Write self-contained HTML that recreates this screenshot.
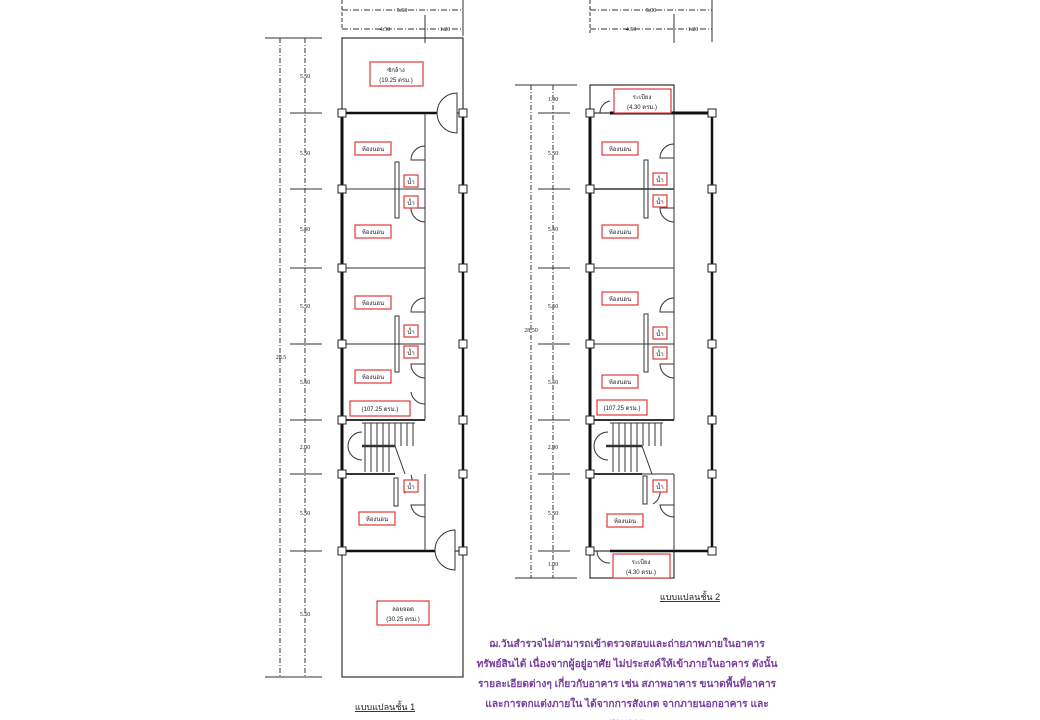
<!DOCTYPE html>
<html><head><meta charset="utf-8"><style>
html,body{margin:0;padding:0;background:#fff;width:1040px;height:720px;overflow:hidden}
svg{display:block}
.t{font-family:"Liberation Serif","Noto Serif CJK SC",serif;fill:#222}
.th{font-family:"Liberation Sans","Noto Sans CJK SC",sans-serif}
</style></head><body>
<svg width="1040" height="720" viewBox="0 0 1040 720" xmlns="http://www.w3.org/2000/svg">
<defs>
<g id="col"><rect x="-4" y="-4" width="8" height="8" fill="#fff" stroke="#222" stroke-width="1"/></g>
</defs>

<!-- ===== PLAN 1 ===== -->
<g stroke="#333" fill="none">
  <line x1="342" y1="0" x2="342" y2="30" stroke-dasharray="4 2"/>
  <line x1="463" y1="0" x2="463" y2="36"/>
  <line x1="342" y1="10" x2="463" y2="10" stroke-dasharray="6 2 1 2"/>
  <line x1="342" y1="29" x2="463" y2="29" stroke-dasharray="6 2 1 2"/>
  <line x1="425" y1="15" x2="425" y2="43"/>
  <line x1="265" y1="38" x2="322" y2="38"/>
  <line x1="265" y1="677" x2="322" y2="677"/>
  <line x1="280" y1="38" x2="280" y2="677" stroke-dasharray="5 2 1 2"/>
  <line x1="305" y1="38" x2="305" y2="677" stroke-dasharray="5 2 1 2"/>
  <g>
    <line x1="290" y1="113" x2="322" y2="113"/><line x1="290" y1="189" x2="322" y2="189"/>
    <line x1="290" y1="268" x2="322" y2="268"/><line x1="290" y1="344" x2="322" y2="344"/>
    <line x1="290" y1="420" x2="322" y2="420"/><line x1="290" y1="474" x2="322" y2="474"/>
    <line x1="290" y1="551" x2="322" y2="551"/>
  </g>
  <rect x="342" y="38" width="121" height="75" stroke-width="1.2"/>
  <rect x="342" y="551" width="121" height="126" stroke-width="1.2"/>
  <line x1="342" y1="113" x2="342" y2="551" stroke-width="3" stroke="#111"/>
  <line x1="463" y1="113" x2="463" y2="551" stroke-width="2.5" stroke="#111"/>
  <line x1="342" y1="113" x2="438" y2="113" stroke-width="2.5" stroke="#111"/>
  <line x1="342" y1="551" x2="438" y2="551" stroke-width="2.5" stroke="#111"/>
  <line x1="342" y1="189" x2="425" y2="189"/>
  <line x1="342" y1="268" x2="425" y2="268"/>
  <line x1="342" y1="344" x2="425" y2="344"/>
  <line x1="342" y1="420" x2="425" y2="420" stroke-width="2"/>
  <line x1="342" y1="474" x2="395" y2="474" stroke-width="2"/>
  <line x1="425" y1="113" x2="425" y2="420"/>
  <line x1="425" y1="474" x2="425" y2="551"/>
  <path d="M457 93 A20 20 0 0 0 457 133 Z" fill="#fff"/>
  <path d="M455 530 A20 20 0 0 0 455 570 Z" fill="#fff"/>
  <rect x="395" y="162" width="4" height="56"/>
  <rect x="395" y="316" width="4" height="56"/>
  <rect x="394" y="478" width="4" height="28"/>
  <path d="M425 146 A14 14 0 0 0 411 160 L425 160"/>
  <path d="M425 222 A14 14 0 0 1 411 208 L425 208"/>
  <path d="M425 298 A14 14 0 0 0 411 312 L425 312"/>
  <path d="M425 378 A14 14 0 0 1 411 364 L425 364"/>
  <path d="M425 404 A14 14 0 0 1 411 392"/>
  <path d="M425 517 A14 14 0 0 1 411 505 L425 505"/>
  <path d="M404 493 A14 14 0 0 0 411 475"/>
  <g stroke-width="1">
    <line x1="362" y1="423" x2="415" y2="423"/>
    <line x1="362" y1="446" x2="395" y2="446" stroke-width="2.5"/>
    <line x1="365" y1="423" x2="365" y2="472"/><line x1="371" y1="423" x2="371" y2="472"/>
    <line x1="377" y1="423" x2="377" y2="472"/><line x1="383" y1="423" x2="383" y2="472"/>
    <line x1="389" y1="423" x2="389" y2="472"/><line x1="395" y1="423" x2="395" y2="446"/>
    <line x1="401" y1="423" x2="401" y2="446"/><line x1="407" y1="423" x2="407" y2="446"/>
    <line x1="413" y1="423" x2="413" y2="446"/>
    <path d="M362 432 A14 14 0 0 0 362 460"/>
    <path d="M395 446 L405 474"/>
  </g>
</g>
<g fill="#fff">
  <use href="#col" x="342" y="113"/><use href="#col" x="463" y="113"/>
  <use href="#col" x="342" y="189"/><use href="#col" x="463" y="189"/>
  <use href="#col" x="342" y="268"/><use href="#col" x="463" y="268"/>
  <use href="#col" x="342" y="344"/><use href="#col" x="463" y="344"/>
  <use href="#col" x="342" y="420"/><use href="#col" x="463" y="420"/>
  <use href="#col" x="342" y="474"/><use href="#col" x="463" y="474"/>
  <use href="#col" x="342" y="551"/><use href="#col" x="463" y="551"/>
</g>
<g class="t" font-size="6" text-anchor="middle">
  <text x="402" y="12">5.50</text><text x="385" y="31">4.50</text><text x="445" y="31">1.20</text>
  <text x="305" y="78">5.50</text><text x="305" y="155">5.50</text><text x="305" y="231">5.50</text>
  <text x="305" y="308">5.50</text><text x="305" y="384">5.50</text><text x="305" y="449">2.00</text>
  <text x="305" y="515">5.50</text><text x="305" y="616">5.50</text>
  <text x="281" y="359">28.5</text>
</g>
<g fill="#fff" stroke="#e03a3a" stroke-width="1.2">
  <rect x="370" y="62" width="53" height="24"/>
  <rect x="355" y="142" width="36" height="13"/><rect x="355" y="225" width="36" height="13"/>
  <rect x="355" y="296" width="36" height="13"/><rect x="355" y="370" width="36" height="13"/>
  <rect x="350" y="401" width="60" height="15"/>
  <rect x="404" y="175" width="14" height="12"/><rect x="404" y="196" width="14" height="12"/>
  <rect x="404" y="325" width="14" height="12"/><rect x="404" y="346" width="14" height="12"/>
  <rect x="404" y="480" width="14" height="12"/>
  <rect x="359" y="512" width="36" height="13"/>
  <rect x="377" y="601" width="52" height="24"/>
</g>
<g class="t th" font-size="6" text-anchor="middle">
  <text x="396" y="72">ซักล้าง</text><text x="396" y="82">(19.25 ตรม.)</text>
  <text x="373" y="151">ห้องนอน</text><text x="373" y="234">ห้องนอน</text>
  <text x="373" y="305">ห้องนอน</text><text x="373" y="379">ห้องนอน</text>
  <text x="380" y="411">(107.25 ตรม.)</text>
  <text x="411" y="184">น้ำ</text><text x="411" y="205">น้ำ</text><text x="411" y="334">น้ำ</text>
  <text x="411" y="355">น้ำ</text><text x="411" y="489">น้ำ</text>
  <text x="377" y="521">ห้องนอน</text>
  <text x="403" y="611">ลอยจอด</text><text x="403" y="621">(30.25 ตรม.)</text>
</g>
<text class="t th" x="385" y="710" font-size="9" text-anchor="middle" text-decoration="underline">แบบแปลนชั้น 1</text>

<!-- ===== PLAN 2 ===== -->
<g stroke="#333" fill="none">
  <line x1="590" y1="0" x2="590" y2="33" stroke-dasharray="4 2"/>
  <line x1="712" y1="0" x2="712" y2="42"/>
  <line x1="590" y1="10" x2="712" y2="10" stroke-dasharray="6 2 1 2"/>
  <line x1="590" y1="29" x2="712" y2="29" stroke-dasharray="6 2 1 2"/>
  <line x1="674" y1="14" x2="674" y2="43"/>
  <line x1="515" y1="85" x2="577" y2="85"/>
  <line x1="515" y1="578" x2="577" y2="578"/>
  <line x1="531" y1="85" x2="531" y2="578" stroke-dasharray="5 2 1 2"/>
  <line x1="553" y1="85" x2="553" y2="578" stroke-dasharray="5 2 1 2"/>
  <line x1="538" y1="113" x2="570" y2="113"/><line x1="538" y1="189" x2="570" y2="189"/>
  <line x1="538" y1="268" x2="570" y2="268"/><line x1="538" y1="344" x2="570" y2="344"/>
  <line x1="538" y1="420" x2="570" y2="420"/><line x1="538" y1="474" x2="570" y2="474"/>
  <line x1="538" y1="551" x2="570" y2="551"/>
  <rect x="590" y="85" width="84" height="28" stroke-width="1.2"/>
  <rect x="590" y="551" width="84" height="27" stroke-width="1.2"/>
  <line x1="590" y1="113" x2="590" y2="551" stroke-width="3" stroke="#111"/>
  <line x1="712" y1="113" x2="712" y2="551" stroke-width="2.5" stroke="#111"/>
  <line x1="610" y1="113" x2="712" y2="113" stroke-width="3" stroke="#111"/>
  <line x1="610" y1="551" x2="712" y2="551" stroke-width="2.5" stroke="#111"/>
  <line x1="590" y1="189" x2="674" y2="189" stroke-width="1.5"/>
  <line x1="590" y1="268" x2="674" y2="268"/>
  <line x1="590" y1="344" x2="674" y2="344"/>
  <line x1="590" y1="420" x2="674" y2="420" stroke-width="2"/>
  <line x1="590" y1="474" x2="642" y2="474" stroke-width="2"/>
  <line x1="674" y1="113" x2="674" y2="420"/>
  <line x1="674" y1="474" x2="674" y2="551"/>
  <line x1="642" y1="474" x2="674" y2="474"/>
  <path d="M600 113 A12 12 0 0 1 610 101"/>
  <path d="M597 551 A12 12 0 0 0 610 563"/>
  <rect x="644" y="160" width="4" height="58"/>
  <rect x="644" y="314" width="4" height="58"/>
  <rect x="643" y="476" width="4" height="28"/>
  <path d="M674 144 A14 14 0 0 0 660 158 L674 158"/>
  <path d="M674 222 A14 14 0 0 1 660 208 L674 208"/>
  <path d="M674 298 A14 14 0 0 0 660 312 L674 312"/>
  <path d="M674 378 A14 14 0 0 1 660 364 L674 364"/>
  <path d="M674 517 A14 14 0 0 1 660 505 L674 505"/>
  <path d="M653 504 A14 14 0 0 0 660 490"/>
  <g stroke-width="1">
    <line x1="610" y1="423" x2="663" y2="423"/>
    <line x1="606" y1="446" x2="642" y2="446" stroke-width="2.5"/>
    <line x1="613" y1="423" x2="613" y2="472"/><line x1="619" y1="423" x2="619" y2="472"/>
    <line x1="625" y1="423" x2="625" y2="472"/><line x1="631" y1="423" x2="631" y2="472"/>
    <line x1="637" y1="423" x2="637" y2="472"/><line x1="643" y1="423" x2="643" y2="446"/>
    <line x1="649" y1="423" x2="649" y2="446"/><line x1="655" y1="423" x2="655" y2="446"/>
    <line x1="661" y1="423" x2="661" y2="446"/>
    <path d="M608 432 A14 14 0 0 0 608 460"/>
    <path d="M642 446 L652 474"/>
  </g>
</g>
<g>
  <use href="#col" x="590" y="113"/><use href="#col" x="712" y="113"/>
  <use href="#col" x="590" y="189"/><use href="#col" x="712" y="189"/>
  <use href="#col" x="590" y="268"/><use href="#col" x="712" y="268"/>
  <use href="#col" x="590" y="344"/><use href="#col" x="712" y="344"/>
  <use href="#col" x="590" y="420"/><use href="#col" x="712" y="420"/>
  <use href="#col" x="590" y="474"/><use href="#col" x="712" y="474"/>
  <use href="#col" x="590" y="551"/><use href="#col" x="712" y="551"/>
</g>
<g class="t" font-size="6" text-anchor="middle">
  <text x="651" y="12">5.00</text><text x="631" y="31">4.50</text><text x="693" y="31">1.20</text>
  <text x="553" y="101">1.00</text><text x="553" y="155">5.50</text><text x="553" y="231">5.50</text>
  <text x="553" y="308">5.50</text><text x="553" y="384">5.50</text><text x="553" y="449">2.00</text>
  <text x="553" y="515">5.50</text><text x="553" y="566">1.00</text>
  <text x="531" y="332">28.50</text>
</g>
<g fill="#fff" stroke="#e03a3a" stroke-width="1.2">
  <rect x="614" y="89" width="57" height="24"/>
  <rect x="602" y="142" width="36" height="13"/><rect x="602" y="225" width="36" height="13"/>
  <rect x="602" y="292" width="36" height="13"/><rect x="602" y="375" width="36" height="13"/>
  <rect x="597" y="400" width="50" height="15"/>
  <rect x="653" y="173" width="14" height="12"/><rect x="653" y="195" width="14" height="12"/>
  <rect x="653" y="327" width="14" height="12"/><rect x="653" y="347" width="14" height="12"/>
  <rect x="653" y="480" width="14" height="12"/>
  <rect x="607" y="514" width="36" height="13"/>
  <rect x="613" y="554" width="57" height="24"/>
</g>
<g class="t th" font-size="6" text-anchor="middle">
  <text x="642" y="99">ระเบียง</text><text x="642" y="109">(4.30 ตรม.)</text>
  <text x="620" y="151">ห้องนอน</text><text x="620" y="234">ห้องนอน</text>
  <text x="620" y="301">ห้องนอน</text><text x="620" y="384">ห้องนอน</text>
  <text x="622" y="410">(107.25 ตรม.)</text>
  <text x="660" y="182">น้ำ</text><text x="660" y="204">น้ำ</text><text x="660" y="336">น้ำ</text>
  <text x="660" y="356">น้ำ</text><text x="660" y="489">น้ำ</text>
  <text x="625" y="523">ห้องนอน</text>
  <text x="641" y="564">ระเบียง</text><text x="641" y="574">(4.30 ตรม.)</text>
</g>
<text class="t th" x="690" y="600" font-size="9" text-anchor="middle" text-decoration="underline">แบบแปลนชั้น 2</text>

<!-- note -->
<g font-family="Liberation Sans, Noto Sans CJK SC, sans-serif" font-size="10.2" font-weight="bold" fill="#7a3fa0" text-anchor="middle">
  <text x="627" y="647">ฌ.วันสำรวจไม่สามารถเข้าตรวจสอบและถ่ายภาพภายในอาคาร</text>
  <text x="627" y="667">ทรัพย์สินได้ เนื่องจากผู้อยู่อาศัย ไม่ประสงค์ให้เข้าภายในอาคาร  ดังนั้น</text>
  <text x="627" y="687">รายละเอียดต่างๆ เกี่ยวกับอาคาร เช่น สภาพอาคาร ขนาดพื้นที่อาคาร</text>
  <text x="627" y="707">และการตกแต่งภายใน ได้จากการสังเกต จากภายนอกอาคาร และ</text>
  <text x="627" y="726">สอบถาม</text>
</g>
</svg>
</body></html>
